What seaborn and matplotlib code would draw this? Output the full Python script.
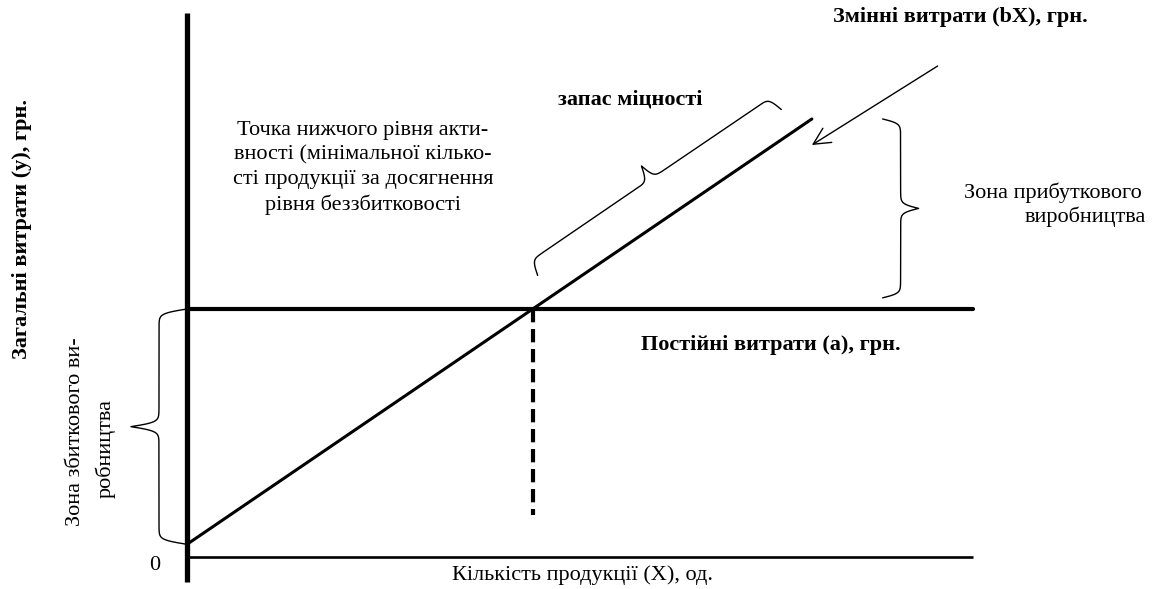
import numpy as np
import pandas as pd
import matplotlib
matplotlib.use("Agg")
import matplotlib.pyplot as plt
import seaborn as sns

# Break-even model in conventional units
fixed_cost = 100.0        # a
cost_start = 5.0          # value of the cost line at X = 0
variable_rate = 2.16      # b, cost per unit of output
q_axis_end = 100.0        # length of the quantity axis
q_line_end = 79.5         # where the cost line stops
cost_axis = [-10.2, 219.5]
dash_bottom = 16.8        # lower end of the break-even marker

breakeven_q = (fixed_cost - cost_start) / variable_rate

quantity = [0.0, q_line_end]
total_cost = [cost_start + variable_rate * q for q in quantity]

# safety-margin span along the cost line and the profit-zone span
margin_span = [46.4, 77.4]
profit_x = 88.5
profit_span = [fixed_cost + 4.5, total_cost[1]]

W, H = 1153, 589
sns.set_theme(style="white")
plt.rcParams["font.family"] = ["Liberation Serif", "DejaVu Serif"]

fig = plt.figure(figsize=(W / 100, H / 100), dpi=100)
ax = fig.add_axes([0, 0, 1, 1])
ax.set_xlim(-23.79, 122.9)
ax.set_ylim(-13.04, 224.75)
ax.axis("off")

# axes of the diagram
ax.plot([0, 0], cost_axis, color="black", lw=3.8, solid_capstyle="butt")
ax.plot([0, q_axis_end], [0, 0], color="black", lw=1.9, solid_capstyle="butt")

lines = pd.DataFrame({
    "X": [0, q_axis_end] + quantity,
    "y": [fixed_cost, fixed_cost] + total_cost,
    "kind": ["fixed", "fixed", "total", "total"],
})
sns.lineplot(data=lines[lines.kind == "fixed"], x="X", y="y", ax=ax,
             color="black", lw=3.0, estimator=None, sort=False)
sns.lineplot(data=lines[lines.kind == "total"], x="X", y="y", ax=ax,
             color="black", lw=2.2, estimator=None, sort=False)

be = pd.DataFrame({"X": [breakeven_q, breakeven_q], "y": [fixed_cost, dash_bottom]})
sns.lineplot(data=be, x="X", y="y", ax=ax, color="black", lw=3.0,
             estimator=None, sort=False, dashes=False, linestyle=(0, (3.2, 1.6)))


def brace(p0, p1, width_px, side=1, offset_px=0.0, lw=1.0, sharp=0.45):
    tr = ax.transData
    a = tr.transform(p0)
    b = tr.transform(p1)
    d = b - a
    length = np.hypot(*d)
    u = d / length
    n = np.array([-u[1], u[0]]) * side
    half = np.linspace(0, length / 2, 300)
    yh = 1 / (1 + np.exp(-sharp * (half - half[0]))) + \
        1 / (1 + np.exp(-sharp * (half - half[-1])))
    s = np.concatenate([half, length - half[::-1][1:]])
    off = (np.concatenate([yh, yh[::-1][1:]]) - 0.5) * width_px + offset_px
    pts = a + s[:, None] * u + off[:, None] * n
    data = tr.inverted().transform(pts)
    ax.plot(data[:, 0], data[:, 1], color="black", lw=lw)


brace((0, cost_start), (0, fixed_cost), 56, side=1)
brace((profit_x, profit_span[0]), (profit_x, profit_span[1]), 36, side=-1)
m0 = (margin_span[0], cost_start + variable_rate * margin_span[0])
m1 = (margin_span[1], cost_start + variable_rate * margin_span[1])
brace(m0, m1, 32, side=1, offset_px=25)

ax.annotate("", xy=(79.5, 166.2), xytext=(95.5, 198.1),
            arrowprops=dict(arrowstyle="->,head_length=0.6,head_width=0.3",
                            lw=1.0, color="black", mutation_scale=20,
                            shrinkA=0, shrinkB=0))


def label(px, py, text, **kw):
    kw.setdefault("ha", "center")
    kw.setdefault("va", "center")
    kw.setdefault("fontsize", 16)
    kw.setdefault("color", "black")
    fig.text(px / W, 1 - py / H, text, **kw)


label(960, 17, "Змінні витрати (bX), грн.", fontweight="bold")
label(630, 99, "запас міцності", fontweight="bold")
label(363, 168, "Точка нижчого рівня акти-\nвності (мінімальної кілько-\n"
      "сті продукції за досягнення\nрівня беззбитковості", linespacing=1.36)
label(1053, 193, "Зона прибуткового")
label(1085, 217, "виробництва")
label(771, 345, "Постійні витрати (а), грн.", fontweight="bold")
label(583, 575, "Кількість продукції (Х), од.")
label(155, 565, "0")
label(22, 229, "Загальні витрати (у), грн.", fontweight="bold", rotation=90)
label(75, 432, "Зона збиткового ви-", rotation=90)
label(105, 448, "робництва", rotation=90)

fig.savefig("out.png", dpi=100)
